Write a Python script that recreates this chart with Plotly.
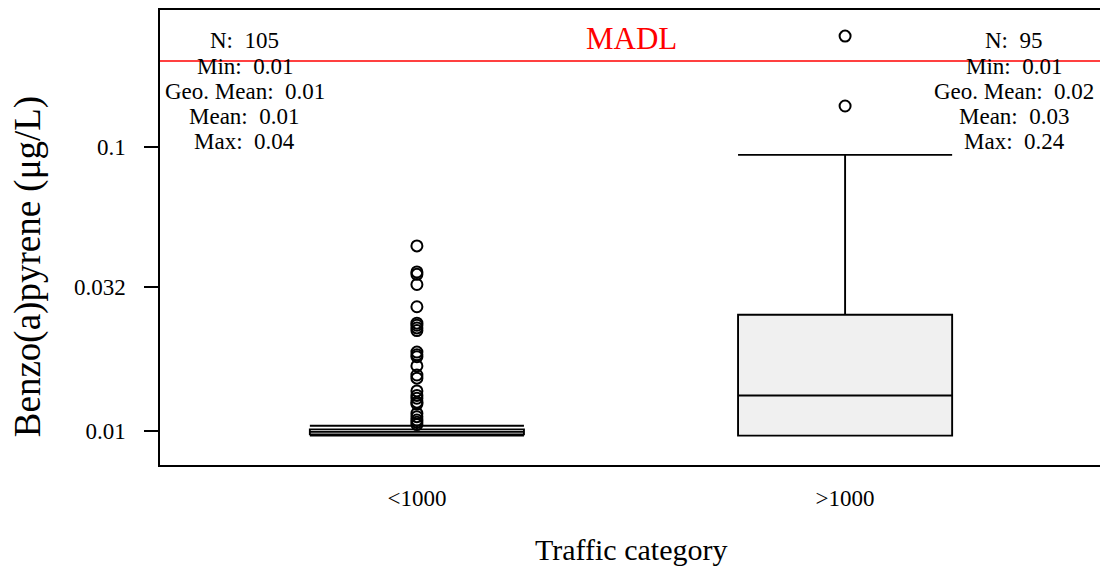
import math
import plotly.graph_objects as go

categories = ["<1000", ">1000"]

# box stats (ug/L)
q1 = [0.0097, 0.0096]
median = [0.0099, 0.0133]
q3 = [0.0101, 0.0256]
lower_fence = [0.0096, 0.0096]
upper_fence = [0.0104, 0.0935]

outliers_low = [0.0447, 0.0362, 0.0355, 0.0327, 0.0273, 0.0239, 0.0235, 0.0230,
                0.0225, 0.0189, 0.0185, 0.0182, 0.0169, 0.0157, 0.0153, 0.0138,
                0.0133, 0.0130, 0.0126, 0.0124, 0.0115, 0.0112, 0.0109, 0.0107, 0.0105]
outliers_high = [0.245, 0.139]

madl = 0.2

stats_low = ["N:  105", "Min:  0.01", "Geo. Mean:  0.01", "Mean:  0.01", "Max:  0.04"]
stats_high = ["N:  95", "Min:  0.01", "Geo. Mean:  0.02", "Mean:  0.03", "Max:  0.24"]

tick_vals = [0.01, 0.032, 0.1]
tick_text = ["0.01", "0.032", "0.1"]

FONT = "Liberation Serif"
PLOT_H = 455

fig = go.Figure()
fig.add_trace(go.Box(
    x=categories, q1=q1, median=median, q3=q3,
    lowerfence=lower_fence, upperfence=upper_fence,
    boxpoints=False, whiskerwidth=1, width=0.5,
    fillcolor="#f0f0f0", line=dict(color="black", width=1.9),
    showlegend=False, hoverinfo="skip"))

fig.add_trace(go.Scatter(
    x=[categories[0]] * len(outliers_low) + [categories[1]] * len(outliers_high),
    y=outliers_low + outliers_high, mode="markers",
    marker=dict(symbol="circle-open", size=11, color="black", line=dict(width=2)),
    showlegend=False))

fig.add_shape(type="line", xref="paper", x0=0, x1=1, y0=madl, y1=madl,
              line=dict(color="red", width=1.5))
# annotations on a log axis take log10 of the value
fig.add_annotation(text="MADL", xref="paper", x=0.5, y=math.log10(madl), yanchor="bottom",
                   yshift=3, showarrow=False, font=dict(family=FONT, size=31, color="red"))

# stats text, one line per annotation
line_px = 25
for stats, xpos in [(stats_low, 0.0899), (stats_high, 0.9066)]:
    for i, s in enumerate(stats):
        fig.add_annotation(text=s.replace("  ", " \u00a0"), xref="paper", yref="paper",
                           x=xpos, xanchor="center",
                           y=1 - (31 + i * line_px) / PLOT_H, yanchor="middle",
                           showarrow=False, font=dict(family=FONT, size=23, color="black"))

fig.add_annotation(
    text="Benzo(a)pyrene (\u03bcg/L)",
    xref="paper", yref="paper", x=-0.14, xanchor="center", y=0.435, yanchor="middle",
    textangle=-90, showarrow=False, font=dict(family=FONT, size=37, color="black"))

fig.add_annotation(text="Traffic category", xref="paper", yref="paper",
                   x=0.5, xanchor="center", y=-(84 / PLOT_H), yanchor="middle",
                   showarrow=False, font=dict(family=FONT, size=30, color="black"))

# page body adds an 8px margin, so the figure is sized to fit inside the window
fig.update_layout(
    width=1100, height=559,
    margin=dict(l=152, r=6, t=2, b=102, autoexpand=False),
    plot_bgcolor="white", paper_bgcolor="white",
    font=dict(family=FONT, size=23, color="black"),
    xaxis=dict(range=[-0.6, 1.6], showline=True, mirror=True, linecolor="black",
               linewidth=1.5, ticks="", showgrid=False, zeroline=False,
               ticklabelstandoff=12),
    yaxis=dict(type="log", range=[-2.121, -0.519], showline=True, mirror="ticks",
               linecolor="black", linewidth=1.5, ticks="outside", ticklen=14,
               tickwidth=1.5, tickcolor="black", tickvals=tick_vals, ticktext=tick_text,
               showgrid=False, zeroline=False, ticklabelstandoff=14),
)

fig.write_html("out.html")
